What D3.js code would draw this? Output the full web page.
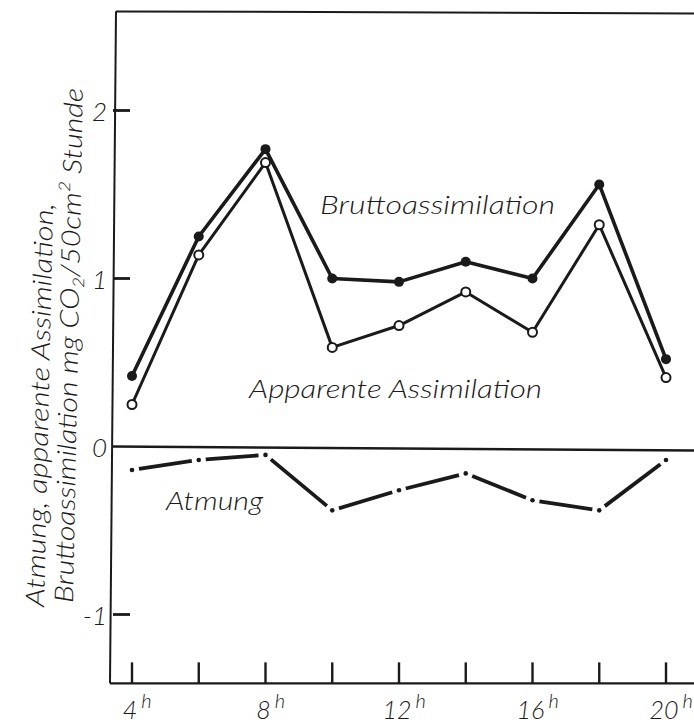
<!DOCTYPE html>
<html>
<head>
<meta charset="utf-8">
<script src="https://cdn.jsdelivr.net/npm/d3@7"></script>
<style>
  body { margin: 0; background: #fff; }
  svg text { font-family: Lato, "Liberation Sans", sans-serif; font-weight: 300; font-style: italic; fill: #1a1a1a; }
</style>
</head>
<body>
<svg id="chart" width="694" height="723"></svg>
<script>
'use strict';

// hours of the day (x) and the three series
const hours = [4, 6, 8, 10, 12, 14, 16, 18, 20];
const brutto = [0.42, 1.25, 1.77, 1.00, 0.98, 1.10, 1.00, 1.56, 0.52];
const apparent = [0.25, 1.14, 1.69, 0.59, 0.72, 0.92, 0.68, 1.32, 0.41];
const atmung = [-0.14, -0.08, -0.05, -0.38, -0.26, -0.16, -0.32, -0.38, -0.08];
const yTicks = [2, 1, -1];
const xTicks = [4, 8, 12, 16, 20];

const ink = '#1a1a1a';
const svg = d3.select('#chart');

const x = d3.scaleLinear().domain([4, 20]).range([132, 666]);
const y = d3.scaleLinear().domain([0, 1]).range([446.5, 278.5]);

const yTop = y(2.59);
const yBottom = y(-1.41);
const axisX = 113;

// frame: top, left axis, bottom axis, zero line
const frame = svg.append('g').attr('stroke', ink).attr('fill', 'none');
frame.append('line').attr('x1', axisX + 3).attr('y1', yTop).attr('x2', 694).attr('y2', yTop + 2).attr('stroke-width', 2);
frame.append('line').attr('x1', axisX + 3).attr('y1', yTop).attr('x2', axisX - 3).attr('y2', yBottom).attr('stroke-width', 2);
frame.append('line').attr('x1', axisX - 3).attr('y1', yBottom).attr('x2', 694).attr('y2', yBottom).attr('stroke-width', 2.4);
frame.append('line').attr('x1', axisX).attr('y1', y(0)).attr('x2', 694).attr('y2', y(0) + 4).attr('stroke-width', 2.4);

// y ticks sit inside the frame, labels outside
svg.append('g')
   .selectAll('line')
   .data(yTicks)
   .join('line')
   .attr('x1', axisX).attr('x2', axisX + 17)
   .attr('y1', d => y(d)).attr('y2', d => y(d))
   .attr('stroke', ink).attr('stroke-width', 2.8);

svg.append('g')
   .selectAll('text')
   .data([2, 1, 0, -1])
   .join('text')
   .attr('x', 107)
   .attr('y', d => y(d) + 10)
   .attr('text-anchor', 'end')
   .attr('font-size', '26px')
   .text(d => d);

// x ticks rise from the bottom axis
svg.append('g')
   .selectAll('line')
   .data(hours)
   .join('line')
   .attr('x1', d => x(d)).attr('x2', d => x(d))
   .attr('y1', yBottom).attr('y2', yBottom - 21)
   .attr('stroke', ink).attr('stroke-width', 2.4);

const xl = svg.append('g').selectAll('g').data(xTicks).join('g');
xl.append('text')
  .attr('class', 'num')
  .attr('x', d => x(d) - 2)
  .attr('y', 719)
  .attr('text-anchor', 'middle')
  .attr('font-size', '25px')
  .text(d => d);
xl.each(function (d) {
  const w = d3.select(this).select('text.num').node().getComputedTextLength();
  d3.select(this).append('text')
    .attr('x', x(d) - 2 + w / 2 + 4)
    .attr('y', 708)
    .attr('font-size', '20px')
    .text('h');
});

// brutto and apparent curves
const line = d3.line().x((d, i) => x(hours[i])).y(d => y(d));

svg.append('path')
   .datum(apparent)
   .attr('d', line)
   .attr('fill', 'none').attr('stroke', ink).attr('stroke-width', 3)
   .attr('stroke-linejoin', 'round');
svg.append('path')
   .datum(brutto)
   .attr('d', line)
   .attr('fill', 'none').attr('stroke', ink).attr('stroke-width', 3.6)
   .attr('stroke-linejoin', 'round');

svg.append('g')
   .selectAll('circle')
   .data(brutto)
   .join('circle')
   .attr('cx', (d, i) => x(hours[i])).attr('cy', d => y(d))
   .attr('r', 5).attr('fill', ink);

svg.append('g')
   .selectAll('circle')
   .data(apparent)
   .join('circle')
   .attr('cx', (d, i) => x(hours[i])).attr('cy', d => y(d))
   .attr('r', 4.5).attr('fill', '#fff').attr('stroke', ink).attr('stroke-width', 2);

// Atmung: one dash per interval, a dot at every reading
const segs = d3.pairs(atmung.map((d, i) => [x(hours[i]), y(d)]));
svg.append('g')
   .selectAll('line')
   .data(segs)
   .join('line')
   .each(function ([a, b]) {
     const dx = b[0] - a[0], dy = b[1] - a[1];
     const len = Math.hypot(dx, dy), gap = 7 / len;
     d3.select(this)
       .attr('x1', a[0] + dx * gap).attr('y1', a[1] + dy * gap)
       .attr('x2', b[0] - dx * gap).attr('y2', b[1] - dy * gap);
   })
   .attr('stroke', ink).attr('stroke-width', 3.8);

svg.append('g')
   .selectAll('circle')
   .data(atmung)
   .join('circle')
   .attr('cx', (d, i) => x(hours[i])).attr('cy', d => y(d))
   .attr('r', 2.3).attr('fill', ink);

// series labels
const label = function (tx, ty, len, words) {
  svg.append('text')
     .attr('x', tx).attr('y', ty)
     .attr('font-size', '26px')
     .attr('textLength', len)
     .attr('lengthAdjust', 'spacingAndGlyphs')
     .text(words);
};
label(320, 214, 235, 'Bruttoassimilation');
label(249, 398, 293, 'Apparente Assimilation');
label(166, 510, 97, 'Atmung');

// y axis title, two rotated lines
svg.append('text')
   .attr('transform', 'translate(44,607) rotate(-88.7)')
   .attr('font-size', '26px')
   .attr('textLength', 404)
   .attr('lengthAdjust', 'spacingAndGlyphs')
   .text('Atmung, apparente Assimilation,');

const t2 = svg.append('text')
   .attr('transform', 'translate(73,603) rotate(-88.9)')
   .attr('font-size', '26px')
   .attr('textLength', 515)
   .attr('lengthAdjust', 'spacingAndGlyphs');
t2.append('tspan').text('Bruttoassimilation  mg CO');
t2.append('tspan').attr('font-size', '16px').attr('dy', 5).text('2');
t2.append('tspan').attr('dy', -5).text('/50cm');
t2.append('tspan').attr('font-size', '16px').attr('dy', -11).text('2');
t2.append('tspan').attr('dy', 11).text('  Stunde');
</script>
</body>
</html>
